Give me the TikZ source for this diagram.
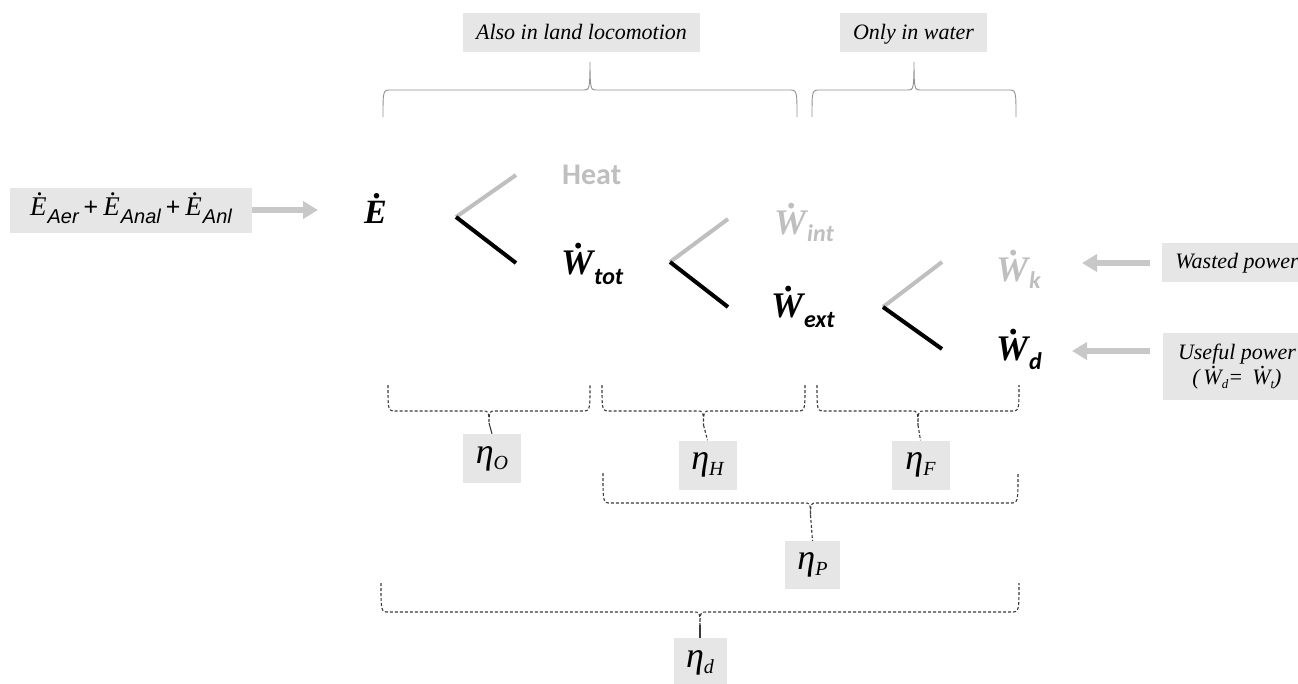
\documentclass[tikz,border=0pt]{standalone}
\usepackage{fontspec}
\setmainfont{Liberation Serif}
\newfontfamily\calfont{Carlito}
\newfontfamily\arialfont{Liberation Sans}
\usetikzlibrary{arrows.meta}

\definecolor{boxgray}{HTML}{E6E6E6}
\definecolor{arrowgray}{HTML}{C8C8C8}
\definecolor{palegray}{HTML}{BFBFBF}
\definecolor{bracegray}{HTML}{909090}
\definecolor{dashgray}{HTML}{3A3A3A}

% a letter with a dot above it (time derivative)
\newcommand\dotted[2][0.14em]{{\ooalign{#2\crcr\hfil\kern#1\raisebox{0.72em}{.}\hfil\crcr}}}
% efficiency symbol eta with a subscript
\newcommand\effic[1]{{\itshape\fontsize{36}{36}\selectfont η\raisebox{-6pt}{\fontsize{20}{20}\selectfont #1}}}
% symbol with a lowered sans subscript
\newcommand\symsub[2]{\dotted{W}\kern1pt\raisebox{-#2}{\calfont\fontsize{24}{24}\selectfont #1}}

% curly bracket: x1, x2, y of the ends, y of the long side, y of the tip, style, tip name
\newcommand\curly[7]{%
  \pgfmathsetmacro\bxm{(#1+#2)/2}%
  \draw[#6] (#1,#3) .. controls (#1,#4) and (#1,#4) .. ({#1+8},#4)
    -- ({\bxm-6},#4) .. controls ({\bxm-1},#4) and (\bxm,#4) .. (\bxm,#5)
    .. controls (\bxm,#4) and ({\bxm+1},#4) .. ({\bxm+6},#4)
    -- ({#2-8},#4) .. controls (#2,#4) and (#2,#4) .. (#2,#3);
  \coordinate (#7) at (\bxm,#5);}

\tikzset{
  graybox/.style={fill=boxgray, inner sep=0pt},
  fatarrow/.style={draw=arrowgray, line width=5.5pt, -{Triangle[length=15pt,width=17pt]}},
  forkpale/.style={draw=palegray, line width=4pt},
  forkdark/.style={draw=black, line width=4pt},
  topbrace/.style={draw=bracegray, line width=0.9pt},
  dashbrace/.style={draw=dashgray, line width=1.1pt, dash pattern=on 3pt off 2pt},
  stemsolid/.style={draw=dashgray, line width=1.1pt},
  stemdash/.style={dashbrace},
  sym/.style={anchor=base west, inner sep=0pt},
  bigsym/.style={sym, font=\fontsize{36}{36}\selectfont\bfseries\itshape},
  toplabel/.style={graybox, font=\fontsize{22}{22}\selectfont\itshape, text height=17pt, text depth=3pt},
  sidelabel/.style={graybox, font=\fontsize{22}{22}\selectfont\itshape, align=center},
  effbox/.style={graybox, minimum width=58pt, minimum height=49pt},
}

\begin{document}
\begin{tikzpicture}[x=1pt, y=-1pt]
\useasboundingbox (0,0) rectangle (1298,683);

% --- input energy box and arrow
\node[graybox, minimum width=242pt, minimum height=45pt] (input) at (131,210.5)
  {{\fontsize{27}{27}\selectfont\itshape\dotted{E}}\kern1pt\raisebox{-8pt}{\arialfont\itshape\fontsize{20}{20}\selectfont Aer}\hspace{5pt}{\arialfont\fontsize{25}{25}\selectfont +}\hspace{5pt}%
   {\fontsize{27}{27}\selectfont\itshape\dotted{E}}\kern1pt\raisebox{-8pt}{\arialfont\itshape\fontsize{20}{20}\selectfont Anal}\hspace{5pt}{\arialfont\fontsize{25}{25}\selectfont +}\hspace{5pt}%
   {\fontsize{27}{27}\selectfont\itshape\dotted{E}}\kern1pt\raisebox{-8pt}{\arialfont\itshape\fontsize{20}{20}\selectfont Anl}};
\coordinate (inputtip) at (318,210);
\draw[fatarrow] (input.east |- inputtip) -- (inputtip);

% --- power flow symbols
\node[bigsym, font=\fontsize{34}{34}\selectfont\bfseries\itshape] (edot) at (364,223) {\dotted{E}};
\node[sym, font=\fontsize{30}{30}\selectfont\calfont\bfseries, text=palegray] (heat) at (562,184) {Heat};
\node[bigsym] (wtot) at (561,274) {\symsub{tot}{10pt}};
\node[bigsym, text=palegray] (wint) at (774,234) {\symsub{int}{7pt}};
\node[bigsym] (wext) at (771,317) {\symsub{ext}{10pt}};
\node[bigsym, text=palegray] (wk) at (996,281) {\symsub{k}{7pt}};
\node[bigsym] (wd) at (996,360) {\symsub{d}{9pt}};

% --- splitting forks
\coordinate (f1v) at (456,217); \coordinate (f1u) at (516,175); \coordinate (f1l) at (516,263);
\coordinate (f2v) at (670,262); \coordinate (f2u) at (728,219); \coordinate (f2l) at (728,307);
\coordinate (f3v) at (883,307); \coordinate (f3u) at (942,262); \coordinate (f3l) at (942,349);
\draw[forkpale] (f1v) -- (f1u);  \draw[forkdark] (f1v) -- (f1l);
\draw[forkpale] (f2v) -- (f2u);  \draw[forkdark] (f2v) -- (f2l);
\draw[forkpale] (f3v) -- (f3u);  \draw[forkdark] (f3v) -- (f3l);

% --- right-hand labels
\node[sidelabel, minimum width=150pt, minimum height=39pt, text height=16pt, text depth=4pt] (wasted) at (1237,262.5) {Wasted power};
\coordinate (wastedtip) at (1082,263);
\draw[fatarrow, shorten <=12pt] (wasted.west |- wastedtip) -- (wastedtip);

\node[sidelabel, minimum width=148pt, minimum height=67pt] (useful) at (1237,366.5)
  {Useful power\\[3pt]
   (\,\dotted{W}\raisebox{-4pt}{\fontsize{13}{13}\selectfont d}=\, \dotted{W}\raisebox{-4pt}{\fontsize{13}{13}\selectfont t})};
\coordinate (usefultip) at (1072,351);
\draw[fatarrow, shorten <=13pt] (useful.west |- usefultip) -- (usefultip);

% --- top brackets
\node[toplabel, minimum width=237pt, minimum height=39pt] (land) at (581.5,32.5) {Also in land locomotion};
\node[toplabel, minimum width=147pt, minimum height=39pt] (water) at (913.5,32.5) {Only in water};
\curly{383}{797}{117}{90}{62}{topbrace}{landtip}
\curly{812}{1016}{117}{90}{62}{topbrace}{watertip}

% --- efficiency brackets
\curly{388}{590}{385}{411}{423}{dashbrace}{tipO}
\curly{602}{805}{385}{411}{425}{dashbrace}{tipH}
\curly{817}{1019}{385}{411}{425}{dashbrace}{tipF}
\curly{603}{1018}{473}{503}{515}{dashbrace}{tipP}
\curly{381}{1019}{583}{612}{625}{dashbrace}{tipd}

\node[effbox] (etaO) at (492,458.5) {\effic{O}};
\node[effbox] (etaH) at (707.5,465) {\effic{H}};
\node[effbox] (etaF) at (920.5,465) {\effic{F}};
\node[effbox, minimum width=55pt, minimum height=48pt] (etaP) at (812.5,565) {\effic{P}};
\node[effbox, minimum width=53pt, minimum height=50pt] (etad) at (700,663) {\effic{d}};

\draw[stemsolid] (tipO) -- (etaO.north);
\draw[stemdash] (tipH) -- (etaH.north);
\draw[stemdash] (tipF) -- (etaF.north);
\draw[stemdash] (tipP) -- (etaP.north);
\draw[stemsolid] (tipd) -- (etad.north);
\end{tikzpicture}
\end{document}
